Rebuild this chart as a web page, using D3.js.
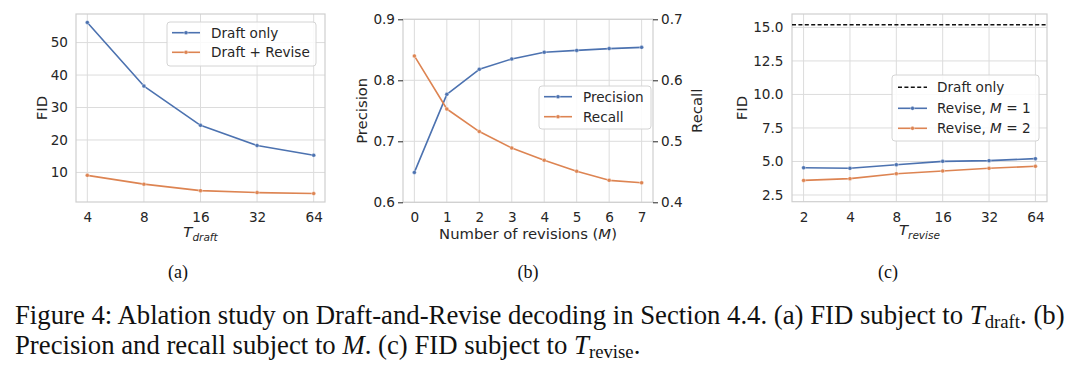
<!DOCTYPE html>
<html>
<head>
<meta charset="utf-8">
<script src="https://cdn.jsdelivr.net/npm/d3@7"></script>
<style>
  html, body { margin: 0; padding: 0; background: #ffffff; }
  svg { display: block; }
  text { font-family: "DejaVu Sans", sans-serif; fill: #262626; }
  .serif { font-family: "Liberation Serif", "Times New Roman", serif; fill: #111; }
</style>
</head>
<body>
<svg id="fig" width="1080" height="371"></svg>
<script>
// ---------------- data ----------------
const aCategories = ["4", "8", "16", "32", "64"];
const aDraftOnly = [56.2, 36.6, 24.5, 18.3, 15.3];
const aDraftRevise = [9.1, 6.4, 4.4, 3.8, 3.5];
const aYTicks = [10, 20, 30, 40, 50];

const bCategories = ["0", "1", "2", "3", "4", "5", "6", "7"];
const bPrecision = [0.649, 0.777, 0.818, 0.835, 0.846, 0.849, 0.852, 0.854];
const bRecall = [0.640, 0.553, 0.516, 0.489, 0.469, 0.451, 0.436, 0.432];
const bPrecisionTicks = [0.6, 0.7, 0.8, 0.9];
const bRecallTicks = [0.4, 0.5, 0.6, 0.7];

const cCategories = ["2", "4", "8", "16", "32", "64"];
const cDraftOnly = 15.2;
const cReviseM1 = [4.53, 4.49, 4.76, 5.01, 5.06, 5.21];
const cReviseM2 = [3.59, 3.72, 4.09, 4.29, 4.49, 4.64];
const cYTicks = [2.5, 5.0, 7.5, 10.0, 12.5, 15.0];

// ---------------- style ----------------
const BLUE = "#4C72B0", ORANGE = "#DD8452";
const GRID = "#dcdcdc", SPINE = "#cfcfcf";
const TICK_FS = 13.6, LABEL_FS = 14.8;

const svg = d3.select("#fig");
svg.append("rect").attr("width", 1080).attr("height", 371).attr("fill", "#fff");

function panel(opts) {
  const { left, right, top, bottom, cats, yDomain, yTicks, yFmt } = opts;
  const n = cats.length;
  const m = (n - 1) * 0.05;
  const x = d3.scaleLinear().domain([-m, n - 1 + m]).range([left, right]);
  const y = d3.scaleLinear().domain(yDomain).range([bottom, top]);
  const g = svg.append("g");
  // grid
  g.selectAll(".vg").data(cats).join("line")
    .attr("x1", (d, i) => x(i)).attr("x2", (d, i) => x(i))
    .attr("y1", top).attr("y2", bottom)
    .attr("stroke", GRID).attr("stroke-width", 1);
  g.selectAll(".hg").data(yTicks).join("line")
    .attr("x1", left).attr("x2", right)
    .attr("y1", d => y(d)).attr("y2", d => y(d))
    .attr("stroke", GRID).attr("stroke-width", 1);
  // frame
  g.append("rect").attr("x", left).attr("y", top)
    .attr("width", right - left).attr("height", bottom - top)
    .attr("fill", "none").attr("stroke", SPINE).attr("stroke-width", 1.2);
  // x axis
  const xa = d3.axisBottom(x).tickValues(d3.range(n)).tickFormat(i => cats[i])
    .tickSize(0).tickPadding(opts.xPad || 10.3);
  const xg = g.append("g").attr("transform", `translate(0,${bottom})`).call(xa);
  xg.select(".domain").remove();
  xg.selectAll("text").style("font-size", TICK_FS + "px").attr("fill", "#262626");
  // y axis left
  const ya = d3.axisLeft(y).tickValues(yTicks).tickFormat(yFmt)
    .tickSize(opts.yTickSize || 0).tickPadding(opts.yPad || 8);
  const yg = g.append("g").attr("transform", `translate(${left},0)`).call(ya);
  yg.select(".domain").remove();
  yg.selectAll("line").attr("stroke", "#262626").attr("stroke-width", 1);
  yg.selectAll("text").style("font-size", TICK_FS + "px").attr("fill", "#262626");
  return { g, x, y };
}

function drawSeries(p, values, color, yScale) {
  const ys = yScale || p.y;
  const line = d3.line().x((d, i) => p.x(i)).y(d => ys(d));
  p.g.append("path").datum(values).attr("d", line)
    .attr("fill", "none").attr("stroke", color).attr("stroke-width", 1.6)
    .attr("stroke-linejoin", "round").attr("stroke-linecap", "round");
  p.g.selectAll(null).data(values).join("circle")
    .attr("cx", (d, i) => p.x(i)).attr("cy", d => ys(d)).attr("r", 2)
    .attr("fill", color).attr("stroke", "#fff").attr("stroke-width", 0.4);
}

function legend(box, items) {
  const g = svg.append("g");
  g.append("rect").attr("x", box.x0).attr("y", box.y0)
    .attr("width", box.x1 - box.x0).attr("height", box.y1 - box.y0)
    .attr("rx", 3).attr("fill", "#fff").attr("fill-opacity", 0.85)
    .attr("stroke", "#d4d4d4").attr("stroke-width", 1);
  items.forEach((it, k) => {
    const yy = box.ys[k];
    g.append("line").attr("x1", box.l0).attr("x2", box.l1).attr("y1", yy).attr("y2", yy)
      .attr("stroke", it.color).attr("stroke-width", 1.6)
      .attr("stroke-dasharray", it.dash || null);
    if (!it.dash) {
      g.append("circle").attr("cx", (box.l0 + box.l1) / 2).attr("cy", yy).attr("r", 2)
        .attr("fill", it.color).attr("stroke", "#fff").attr("stroke-width", 0.4);
    }
    const t = g.append("text").attr("x", box.tx).attr("y", yy + 5)
      .style("font-size", TICK_FS + "px");
    it.parts.forEach(pt => {
      const s = t.append("tspan").text(pt.t);
      if (pt.i) s.style("font-style", "italic");
    });
  });
}

function yLabel(xc, yc, parts, rot) {
  const t = svg.append("text").attr("transform", `translate(${xc},${yc}) rotate(${rot})`)
    .attr("text-anchor", "middle").style("font-size", LABEL_FS + "px");
  parts.forEach(pt => t.append("tspan").text(pt));
}

// ---------------- panel (a) ----------------
const pa = panel({ left: 76, right: 325, top: 14, bottom: 202, cats: aCategories,
  yDomain: [0.9, 58.8], yTicks: aYTicks, yFmt: d3.format("d"), yPad: 8 });
drawSeries(pa, aDraftOnly, BLUE);
drawSeries(pa, aDraftRevise, ORANGE);
yLabel(47, 108, ["FID"], -90);
{
  const t = svg.append("text").attr("x", 200.5).attr("y", 237).attr("text-anchor", "middle")
    .style("font-size", LABEL_FS + "px").style("font-style", "italic");
  t.append("tspan").text("T");
  t.append("tspan").attr("dy", 3.5).style("font-size", "10.5px").text("draft");
}
legend({ x0: 167, x1: 316, y0: 22, y1: 66, ys: [32.7, 52.3], l0: 172, l1: 200, tx: 211 }, [
  { color: BLUE, parts: [{ t: "Draft only" }] },
  { color: ORANGE, parts: [{ t: "Draft + Revise" }] }
]);

// ---------------- panel (b) ----------------
const pb = panel({ left: 403, right: 653, top: 19.3, bottom: 202.3, cats: bCategories,
  yDomain: [0.6, 0.9], yTicks: bPrecisionTicks, yFmt: d3.format(".1f"), yTickSize: 5, yPad: 3,
  xPad: 9.6 });
const yRecall = d3.scaleLinear().domain([0.4, 0.7]).range([202.3, 19.3]);
{
  const ra = d3.axisRight(yRecall).tickValues(bRecallTicks).tickFormat(d3.format(".1f"))
    .tickSize(5).tickPadding(3);
  const rg = svg.append("g").attr("transform", "translate(653,0)").call(ra);
  rg.select(".domain").remove();
  rg.selectAll("line").attr("stroke", "#262626");
  rg.selectAll("text").style("font-size", TICK_FS + "px").attr("fill", "#262626");
}
drawSeries(pb, bPrecision, BLUE);
drawSeries(pb, bRecall, ORANGE, yRecall);
yLabel(367, 110.8, ["Precision"], -90);
yLabel(702, 110.8, ["Recall"], -90);
{
  const t = svg.append("text").attr("x", 528).attr("y", 238.5).attr("text-anchor", "middle")
    .style("font-size", LABEL_FS + "px");
  t.append("tspan").text("Number of revisions (");
  t.append("tspan").style("font-style", "italic").text("M");
  t.append("tspan").text(")");
}
legend({ x0: 539, x1: 651, y0: 86, y1: 129, ys: [96.7, 116.7], l0: 544, l1: 572, tx: 583 }, [
  { color: BLUE, parts: [{ t: "Precision" }] },
  { color: ORANGE, parts: [{ t: "Recall" }] }
]);

// ---------------- panel (c) ----------------
const pc = panel({ left: 792, right: 1047, top: 14, bottom: 201.7, cats: cCategories,
  yDomain: [2.0, 16.0], yTicks: cYTicks, yFmt: d3.format(".1f"), yPad: 8.5 });
pc.g.append("line").attr("x1", 792).attr("x2", 1047)
  .attr("y1", pc.y(cDraftOnly)).attr("y2", pc.y(cDraftOnly))
  .attr("stroke", "#111").attr("stroke-width", 1.5).attr("stroke-dasharray", "4,2.4");
drawSeries(pc, cReviseM1, BLUE);
drawSeries(pc, cReviseM2, ORANGE);
yLabel(747, 108, ["FID"], -90);
{
  const t = svg.append("text").attr("x", 919.5).attr("y", 235).attr("text-anchor", "middle")
    .style("font-size", LABEL_FS + "px").style("font-style", "italic");
  t.append("tspan").text("T");
  t.append("tspan").attr("dy", 3.5).style("font-size", "10.5px").text("revise");
}
legend({ x0: 892, x1: 1039, y0: 75, y1: 141, ys: [87.3, 108.3, 128.3], l0: 898, l1: 927, tx: 937 }, [
  { color: "#111", dash: "4,2.4", parts: [{ t: "Draft only" }] },
  { color: BLUE, parts: [{ t: "Revise, " }, { t: "M", i: true }, { t: " = 1" }] },
  { color: ORANGE, parts: [{ t: "Revise, " }, { t: "M", i: true }, { t: " = 2" }] }
]);

// ---------------- captions ----------------
[["(a)", 178], ["(b)", 528], ["(c)", 888]].forEach(([s, cx]) => {
  svg.append("text").attr("class", "serif").attr("x", cx).attr("y", 278)
    .attr("text-anchor", "middle").style("font-size", "18px").text(s);
});

function captionLine(y, parts, fs) {
  const t = svg.append("text").attr("class", "serif").attr("x", 15).attr("y", y)
    .style("font-size", fs + "px");
  parts.forEach(pt => {
    const s = t.append("tspan").text(pt.t);
    if (pt.i) s.style("font-style", "italic");
    if (pt.sub) s.style("font-size", (fs * 0.7) + "px").attr("dy", fs * 0.15);
    if (pt.up) s.attr("dy", -fs * 0.15);
  });
  return t;
}
const line1 = [
  { t: "Figure 4: Ablation study on Draft-and-Revise decoding in Section 4.4. (a) FID subject to " },
  { t: "T", i: true }, { t: "draft", sub: true }, { t: ". (b)", up: true }
];
const line2 = [
  { t: "Precision and recall subject to " }, { t: "M", i: true },
  { t: ". (c) FID subject to " }, { t: "T", i: true }, { t: "revise", sub: true }, { t: ".", up: true }
];
let fs = 22;
const probe = captionLine(327, line1, fs);
const w = probe.node().getComputedTextLength();
probe.remove();
fs = fs * 1050 / w;
captionLine(324, line1, fs);
captionLine(354, line2, fs);
</script>
</body>
</html>
